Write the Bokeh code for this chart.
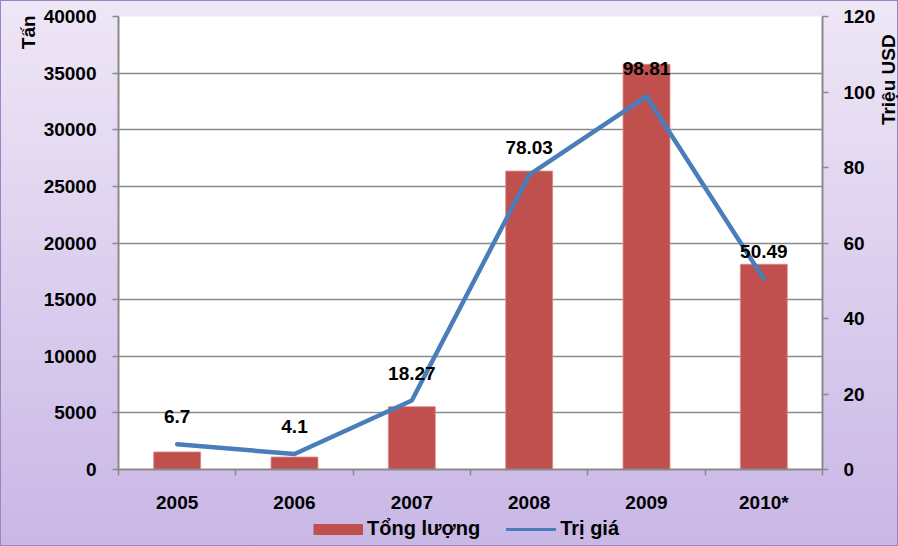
import math
from bokeh.plotting import figure
from bokeh.layouts import column, row
from bokeh.models import (Range1d, LinearAxis, FixedTicker, Legend, LegendItem,
                          ColumnDataSource, Label)
from bokeh.embed import file_html
from bokeh.resources import INLINE

# ---- data ----
years = ["2005", "2006", "2007", "2008", "2009", "2010*"]
volume_tons = [1550, 1100, 5550, 26350, 35780, 18120]      # Tổng lượng (Tấn)
value_musd = [6.7, 4.1, 18.27, 78.03, 98.81, 50.49]          # Trị giá (Triệu USD)
value_labels = ["6.7", "4.1", "18.27", "78.03", "98.81", "50.49"]
left_ticks = [0, 5000, 10000, 15000, 20000, 25000, 30000, 35000, 40000]
right_ticks = [0, 20, 40, 60, 80, 100, 120]

xs = [i + 0.5 for i in range(len(years))]
bounds = list(range(len(years) + 1))

src = ColumnDataSource(dict(x=xs, vol=volume_tons, val=value_musd, lab=value_labels))

GREY = "#8A8A8A"
RED = "#C0504D"
BLUE = "#4A7EBB"
FONT = "Liberation Sans"

TOP_H = 516
W_L, W_M, W_R = 40, 838, 20


def blank(w, h):
    f = figure(width=w, height=h, output_backend="svg", toolbar_location=None,
               x_range=Range1d(0, w), y_range=Range1d(0, h),
               x_axis_type=None, y_axis_type=None,
               min_border_left=0, min_border_right=0, min_border_top=0, min_border_bottom=0)
    f.border_fill_color = None
    f.background_fill_color = None
    f.outline_line_color = None
    f.grid.visible = False
    return f


p = figure(width=W_M, height=TOP_H, output_backend="svg", toolbar_location=None,
           x_range=Range1d(0, len(years)), y_range=Range1d(0, 40000),
           min_border_left=78, min_border_right=54, min_border_top=16, min_border_bottom=47)
p.extra_y_ranges = {"right": Range1d(0, 120)}
p.border_fill_color = None
p.background_fill_color = "white"
p.outline_line_color = None

# bars
bars = p.vbar(x="x", top="vol", width=0.4, source=src, fill_color=RED,
              line_color="#D98A88", line_width=0.8)
# line
ln = p.line(x="x", y="val", source=src, y_range_name="right", line_color=BLUE,
            line_width=4.5, line_cap="round", line_join="round")
p.text(x="x", y="val", text="lab", source=src, y_range_name="right",
       text_align="center", text_baseline="middle", y_offset=-27.5,
       text_font_size="19px", text_font_style="bold", text_color="black",
       text_font={"value": FONT})

# x axis
xa = p.xaxis[0]
xa.ticker = FixedTicker(ticks=xs, minor_ticks=bounds)
xa.major_label_overrides = {x: y for x, y in zip(xs, years)}
xa.major_tick_line_color = None
xa.major_tick_out = 0
xa.major_tick_in = 0
xa.minor_tick_line_color = GREY
xa.minor_tick_line_width = 1.5
xa.minor_tick_out = 6
xa.minor_tick_in = 0
xa.major_label_standoff = 16
xa.axis_line_color = GREY
xa.axis_line_width = 2

# left axis
ya = p.yaxis[0]
ya.ticker = FixedTicker(ticks=left_ticks)
ya.major_tick_out = 6
ya.major_tick_in = 0
ya.minor_tick_line_color = None
ya.major_label_standoff = 16
ya.axis_line_color = GREY
ya.axis_line_width = 2
ya.major_tick_line_color = GREY
ya.major_tick_line_width = 1.5

# right axis
ra = LinearAxis(y_range_name="right", ticker=FixedTicker(ticks=right_ticks))
ra.major_tick_out = 6
ra.major_tick_in = 0
ra.minor_tick_line_color = None
ra.major_label_standoff = 15
ra.axis_line_color = GREY
ra.axis_line_width = 2
ra.major_tick_line_color = GREY
ra.major_tick_line_width = 1.5
p.add_layout(ra, "right")

for ax in (xa, ya, ra):
    ax.major_label_text_font = FONT
    ax.major_label_text_font_size = "19px"
    ax.major_label_text_font_style = "bold"
    ax.major_label_text_color = "black"

p.xgrid.visible = False
p.ygrid.grid_line_color = GREY
p.ygrid.grid_line_width = 1.5

title_style = dict(text_font=FONT, text_font_size="19px", text_font_style="bold",
                   text_color="black", text_align="center", text_baseline="middle",
                   angle=math.pi / 2)

# left strip: "Tấn"
pL = blank(W_L, TOP_H)
pL.add_layout(Label(x=28, y=TOP_H - 18, text="Tấn", **title_style))

# right strip: "Triệu USD"
pR = blank(W_R, TOP_H)
pR.add_layout(Label(x=10, y=TOP_H - 72, text="Triệu USD", **title_style))

# legend strip (swatch renderers hold a single NaN point, so nothing is drawn)
LEG_H = 546 - TOP_H
pLeg = blank(W_L + W_M + W_R, LEG_H)
nan = float("nan")
sw_bar = pLeg.line(x=[nan], y=[nan], line_color=RED, line_width=11, line_cap="butt")
sw_line = pLeg.line(x=[nan], y=[nan], line_color=BLUE, line_width=3, line_cap="round")
lg = Legend(items=[LegendItem(label="Tổng lượng", renderers=[sw_bar]),
                   LegendItem(label="Trị giá", renderers=[sw_line])],
            orientation="horizontal", location=(313, 6), padding=0, margin=0,
            spacing=26, border_line_color=None, background_fill_alpha=0,
            glyph_width=50, glyph_height=14, label_standoff=4, label_height=20,
            label_text_font=FONT, label_text_font_size="20px",
            label_text_font_style="bold", label_text_color="black")
pLeg.add_layout(lg, "center")

layout = column(row(pL, p, pR, spacing=0), pLeg, spacing=0)
layout.styles = {"background": "linear-gradient(180deg, #EEE7F6 0%, #DCCFEE 50%, #C9B7E6 100%)",
                 "outline": "1px solid #9A86C2", "outline-offset": "-1px"}

open("out.html", "w").write(file_html(layout, INLINE))
